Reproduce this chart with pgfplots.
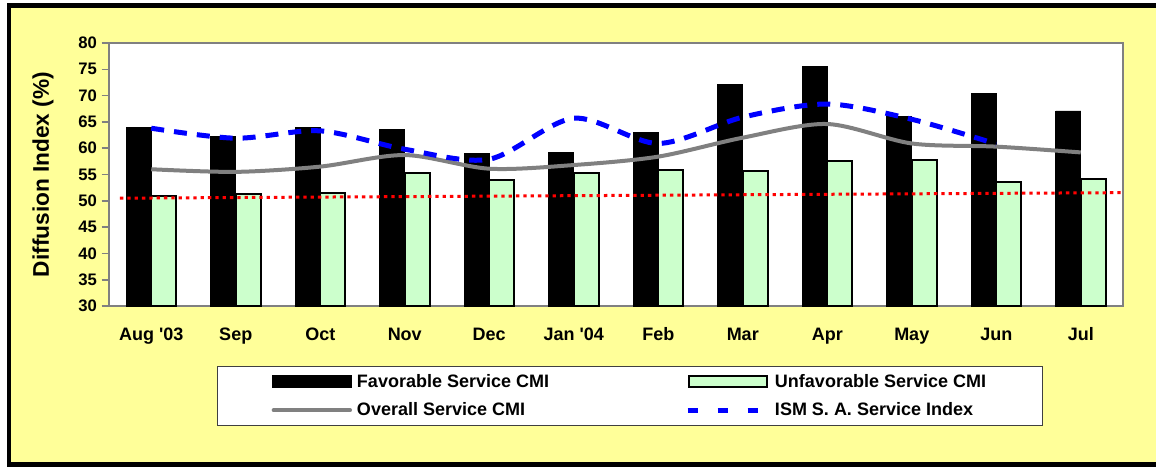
\documentclass[border=0pt]{standalone}
\usepackage{pgfplots}
\pgfplotsset{compat=1.18}
\usepackage{fontspec}
\setmainfont{Liberation Sans}
\definecolor{bgyellow}{HTML}{FFFF99}
\definecolor{lgreen}{HTML}{CCFFCC}
\definecolor{axgray}{HTML}{808080}
\begin{document}
\begin{tikzpicture}
\useasboundingbox (0,0) rectangle (867pt,-350.25pt);
\clip (0,0) rectangle (867pt,-350.25pt);
\fill[white] (0,0) rectangle (867pt,-350.25pt);
\draw[line width=3.4pt, fill=bgyellow] (6.9pt,-4.1pt) rectangle (880pt,-348.4pt);
\begin{axis}[
  at={(81.75pt,-229.5pt)}, anchor=south west,
  scale only axis, width=760.5pt, height=197.25pt,
  xmin=-0.5, xmax=11.5, ymin=30, ymax=80,
  ytick={30,35,...,80},
  xtick={0,...,11},
  xticklabels={Aug \textquotesingle03,Sep,Oct,Nov,Dec,Jan \textquotesingle04,Feb,Mar,Apr,May,Jun,Jul},
  major x tick style={draw=none},
  axis background/.style={fill=white},
  axis line style={draw=axgray, line width=1.5pt},
  y tick style={draw=axgray, line width=1.2pt},
  tick align=outside, major tick length=5.5pt,
  ytick pos=left,
  /pgf/number format/assume math mode=true,
  yticklabel style={font=\fontsize{12.5}{15}\selectfont\bfseries},
  xticklabel style={font=\fontsize{13.5}{16}\selectfont\bfseries, yshift=-7pt, text height=10pt, text depth=3pt},
  ylabel={Diffusion Index (\%)},
  ylabel style={font=\fontsize{17}{20}\selectfont\bfseries, at={(axis description cs:-0.0651,0.5)}, anchor=center},
  legend columns=2,
  legend style={at={(axis description cs:0.1065,-0.228)}, anchor=north west,
    draw=black!75, line width=1pt, fill=white,
    inner xsep=40.5pt, inner ysep=5.75pt, row sep=10pt,
    font=\fontsize{13.5}{16}\selectfont\bfseries,
    nodes={inner sep=0pt}},
]
\addplot[ybar, bar width=18.75pt, bar shift=-9.375pt, fill=black, draw=black,
  legend image code/.code={\draw[fill=black,draw=black] (0pt,-4.5pt) rectangle (59.25pt,4.5pt);}]
  coordinates {(0,63.9) (1,62.3) (2,64.0) (3,63.6) (4,59.0) (5,59.2) (6,63.0) (7,72.1) (8,75.5) (9,66.1) (10,70.4) (11,67.1)};
\addlegendentry{\makebox[249.75pt][l]{\hspace*{3.75pt}Favorable Service CMI}}
\addplot[ybar, bar width=18.75pt, bar shift=9.375pt, fill=lgreen, draw=black, line width=1.5pt,
  legend image code/.code={\draw[fill=lgreen,draw=black,line width=1.5pt] (0.75pt,-4.2pt) rectangle (59.25pt,4.2pt);}]
  coordinates {(0,50.9) (1,51.3) (2,51.4) (3,55.3) (4,54.0) (5,55.2) (6,55.9) (7,55.7) (8,57.6) (9,57.7) (10,53.6) (11,54.2)};
\addlegendentry{\makebox[164pt][l]{\hspace*{3.75pt}Unfavorable Service CMI}}
\addplot[axgray, line width=3pt, smooth, no markers,
  legend image code/.code={\draw[axgray,line width=3pt,line cap=round] (1pt,0pt) -- (58.25pt,0pt);}]
  coordinates {(0,56.0) (1,55.5) (2,56.5) (3,58.7) (4,56.1) (5,56.8) (6,58.4) (7,62.0) (8,64.6) (9,60.9) (10,60.3) (11,59.2)};
\addlegendentry{\makebox[249.75pt][l]{\hspace*{3.75pt}Overall Service CMI}}
\addplot[blue, line width=3.75pt, smooth, no markers, dash pattern=on 9.75pt off 7.5pt,
  legend image code/.code={\draw[blue,line width=3.75pt,dash pattern=on 7.5pt off 15pt] (0pt,0pt) -- (52.5pt,0pt); \path (60pt,0pt);}]
  coordinates {(0,63.8) (1,61.9) (2,63.3) (3,59.8) (4,57.9) (5,65.7) (6,60.9) (7,65.9) (8,68.4) (9,65.5) (10,60.8)};
\addlegendentry{\makebox[164pt][l]{\hspace*{3.75pt}ISM S. A. Service Index}}
\addplot[red, line width=2.25pt, dash pattern=on 2.5pt off 3pt, forget plot]
  coordinates {(-0.37,50.5) (11.5,51.55)};
\end{axis}
\end{tikzpicture}
\end{document}
